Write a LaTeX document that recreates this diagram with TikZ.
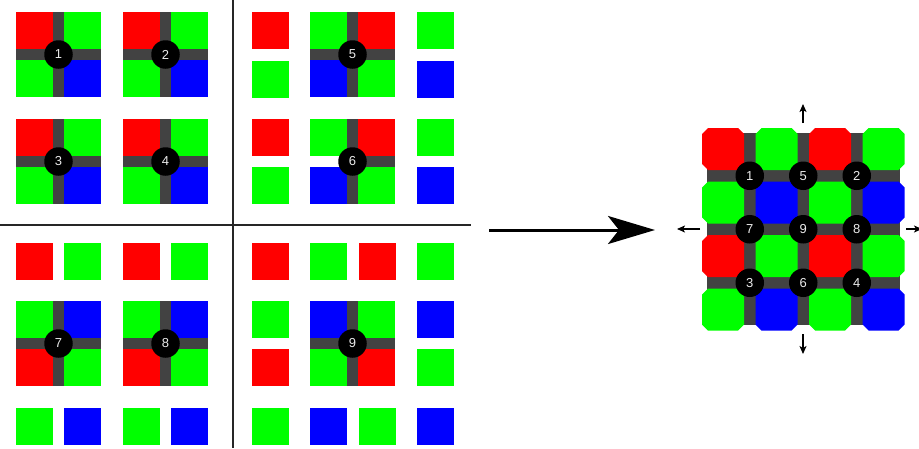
\documentclass[tikz,border=0pt]{standalone}
\usepackage{fontspec}
\setmainfont{Liberation Sans}
\usetikzlibrary{arrows.meta}

\definecolor{pxR}{RGB}{255,0,0}
\definecolor{pxG}{RGB}{0,255,0}
\definecolor{pxB}{RGB}{0,0,255}
\definecolor{pxBar}{RGB}{66,66,66}
\definecolor{digit}{RGB}{235,235,235}

% 2x2 Bayer block with its dark cross: x, y, TL, TR, BL, BR
\newcommand{\quadblock}[6]{%
  \begin{scope}[shift={(#1,#2)}]
    \fill[pxBar] (37,0) rectangle (48,85);
    \fill[pxBar] (0,37) rectangle (85,48);
    \fill[#3] (0,0) rectangle (37,37);
    \fill[#4] (48,0) rectangle (85,37);
    \fill[#5] (0,48) rectangle (37,85);
    \fill[#6] (48,48) rectangle (85,85);
  \end{scope}}

% single square photosite: x, y, colour
\newcommand{\pxsq}[3]{\fill[#3] (#1,#2) rectangle ++(37,37);}

% octagonal photosite of the merged grid: x, y, colour
\newcommand{\octcell}[3]{%
  \begin{scope}[shift={(#1,#2)}]
    \fill[#3] (6,0) -- (36,0) -- (42,6) -- (42,36) -- (36,42) -- (6,42) -- (0,36) -- (0,6) -- cycle;
  \end{scope}}

\begin{document}
\begin{tikzpicture}[x=1pt,y=-1pt,
  dot/.style={circle, fill=black, minimum size=28.5pt, inner sep=0pt,
    text=digit, font=\fontsize{13}{13}\selectfont},
  divider/.style={line width=1.6pt, black!85},
  bigarrow/.style={line width=3pt, -{Stealth[length=47pt,width=28pt,inset=11pt]}},
  smallarrow/.style={line width=1.5pt, -{Stealth[length=8pt,width=7pt,inset=2pt]}}]

\useasboundingbox (0,0) rectangle (919,448);
\fill[white] (0,0) rectangle (919,448);

% ---------- top-left quadrant ----------
\quadblock{16}{12}{pxR}{pxG}{pxG}{pxB}
\quadblock{123}{12}{pxR}{pxG}{pxG}{pxB}
\quadblock{16}{119}{pxR}{pxG}{pxG}{pxB}
\quadblock{123}{119}{pxR}{pxG}{pxG}{pxB}
\node[dot] (b1) at (58.5,54.5) {1};
\node[dot] (b2) at (165.5,54.5) {2};
\node[dot] (b3) at (58.5,161.5) {3};
\node[dot] (b4) at (165.5,161.5) {4};

% ---------- top-right quadrant ----------
\pxsq{252}{12}{pxR}  \pxsq{252}{61}{pxG}
\pxsq{417}{12}{pxG}  \pxsq{417}{61}{pxB}
\pxsq{252}{119}{pxR} \pxsq{252}{167}{pxG}
\pxsq{417}{119}{pxG} \pxsq{417}{167}{pxB}
\quadblock{310}{12}{pxG}{pxR}{pxB}{pxG}
\begin{scope}[shift={(310,119)}]
  \fill[pxBar] (37,0) rectangle (48,85);
  \fill[pxBar] (42,37) rectangle (85,48);
  \fill[pxG] (0,0) rectangle (37,37);
  \fill[pxR] (48,0) rectangle (85,37);
  \fill[pxB] (0,48) rectangle (37,85);
  \fill[pxG] (48,48) rectangle (85,85);
\end{scope}
\node[dot] (b5) at (352.5,54.5) {5};
\node[dot] (b6) at (352.5,161.5) {6};

% ---------- bottom-left quadrant ----------
\pxsq{16}{243}{pxR}  \pxsq{64}{243}{pxG}
\pxsq{123}{243}{pxR} \pxsq{171}{243}{pxG}
\pxsq{16}{408}{pxG}  \pxsq{64}{408}{pxB}
\pxsq{123}{408}{pxG} \pxsq{171}{408}{pxB}
\quadblock{16}{301}{pxG}{pxB}{pxR}{pxG}
\quadblock{123}{301}{pxG}{pxB}{pxR}{pxG}
\node[dot] (b7) at (58.5,343.5) {7};
\node[dot] (b8) at (165.5,343.5) {8};

% ---------- bottom-right quadrant ----------
\pxsq{252}{243}{pxR} \pxsq{310}{243}{pxG}
\pxsq{359}{243}{pxR} \pxsq{417}{243}{pxG}
\pxsq{252}{301}{pxG} \pxsq{417}{301}{pxB}
\pxsq{252}{349}{pxR} \pxsq{417}{349}{pxG}
\pxsq{252}{408}{pxG} \pxsq{310}{408}{pxB}
\pxsq{359}{408}{pxG} \pxsq{417}{408}{pxB}
\quadblock{310}{301}{pxB}{pxG}{pxG}{pxR}
\node[dot] (b9) at (352.5,343.5) {9};

% ---------- quadrant dividers ----------
\coordinate (vtop) at (233,0);
\coordinate (vbot) at (233,448);
\coordinate (hl) at (0,225);
\coordinate (hr) at (471,225);
\draw[divider] (vtop) -- (vbot);
\draw[divider] (hl) -- (hr);

% ---------- merge arrow ----------
\coordinate (arrS) at (489,230);
\coordinate (arrE) at (655,230);
\draw[bigarrow] (arrS) -- (arrE);

% ---------- merged octagon grid ----------
\fill[pxBar] (707,133) rectangle (899.5,324.5);
\foreach \i/\j/\c in {0/0/pxR,1/0/pxG,2/0/pxR,3/0/pxG,
                      0/1/pxG,1/1/pxB,2/1/pxG,3/1/pxB,
                      0/2/pxR,1/2/pxG,2/2/pxR,3/2/pxG,
                      0/3/pxG,1/3/pxB,2/3/pxG,3/3/pxB}
  {\octcell{702+53.5*\i}{128+53.5*\j}{\c}}
\node[dot] (m1) at (749.75,175.75) {1};
\node[dot] (m5) at (803.25,175.75) {5};
\node[dot] (m2) at (856.75,175.75) {2};
\node[dot] (m7) at (749.75,229.25) {7};
\node[dot] (m9) at (803.25,229.25) {9};
\node[dot] (m8) at (856.75,229.25) {8};
\node[dot] (m3) at (749.75,282.75) {3};
\node[dot] (m6) at (803.25,282.75) {6};
\node[dot] (m4) at (856.75,282.75) {4};

% ---------- expansion arrows ----------
\coordinate (upS) at (803,123);   \coordinate (upE) at (803,104);
\coordinate (dnS) at (803,334);   \coordinate (dnE) at (803,354);
\coordinate (ltS) at (700,229);   \coordinate (ltE) at (677,229);
\coordinate (rtS) at (906,229);   \coordinate (rtE) at (922,229);
\draw[smallarrow] (upS) -- (upE);
\draw[smallarrow] (dnS) -- (dnE);
\draw[smallarrow] (ltS) -- (ltE);
\draw[smallarrow] (rtS) -- (rtE);
\end{tikzpicture}
\end{document}
